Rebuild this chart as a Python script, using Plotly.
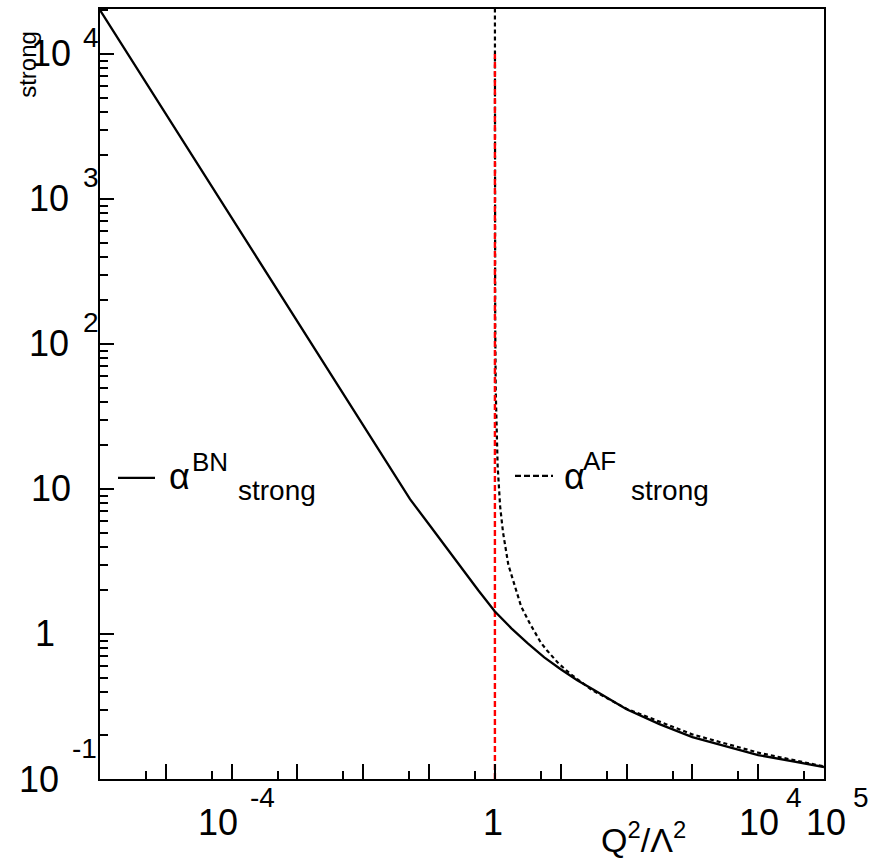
import numpy as np
import plotly.graph_objects as go

# Coupling in the "BN" scheme, alpha_strong versus Q^2/Lambda^2
q2_bn = [1e-6, 1e-5, 1e-4, 1e-3, 1e-2, 0.0316, 0.0513, 0.1, 0.316, 0.562,
         1.0, 1.78, 3.16, 5.62, 10.0, 17.8, 31.6, 100.0, 316.0, 1000.0, 1e4, 1e5]
alpha_bn = [20090, 3846, 738, 141.9, 27.35, 12.02, 8.51, 5.69, 2.82, 1.995,
            1.43, 1.093, 0.862, 0.690, 0.571, 0.480, 0.412, 0.303, 0.239, 0.1945, 0.1463, 0.121]

# One-loop asymptotically free coupling (diverges at Q^2 = Lambda^2)
q2_af = [1.00006, 1.0003, 1.001, 1.003, 1.01, 1.03, 1.06, 1.1, 1.2, 1.33, 1.6, 1.9,
         2.5, 3.4, 5.0, 6.2, 9.0, 14.0, 30.0, 100.0, 1000.0, 1e4, 1e5]
alpha_af = [23000, 4600, 1400, 470, 140, 47, 24, 14.5, 7.6, 5.0, 3.0, 2.3,
            1.55, 1.18, 0.87, 0.77, 0.635, 0.53, 0.41, 0.305, 0.203, 0.152, 0.122]

# Landau pole marker at Q^2 = Lambda^2
pole_x = [1.0, 1.0]
pole_y = [0.1, 1e4]

# Axis ranges (log10) and tick positions
x_range = [-6, 5]
y_range = [-1, 4.31]
x_major = [1e-6, 1e-5, 1e-4, 1e-3, 1e-2, 1e-1, 1, 10, 100, 1e3, 1e4, 1e5]
x_minor = [5e-6, 5e-5, 5e-4, 5e-3, 5e-2, 0.5, 5, 50, 500, 5e3, 5e4]
y_major = [0.1, 1, 10, 100, 1e3, 1e4]
y_minor = [m * 10.0 ** e for e in range(-1, 5) for m in range(2, 10)]

# Tick labels: (value, mantissa text, exponent text)
x_labels = [(1e-4, "10", "-4"), (1, "1", ""), (1e4, "10", "4"), (1e5, "10", "5")]
y_labels = [(1e4, "10", "4"), (1e3, "10", "3"), (100, "10", "2"),
            (10, "10", ""), (1, "1", ""), (0.1, "10", "-1")]

FONT = "Liberation Sans, Arial, Helvetica, sans-serif"

fig = go.Figure()

fig.add_trace(go.Scatter(
    x=q2_af, y=alpha_af, mode="lines",
    line=dict(color="black", width=2.2, dash="4px,3px"),
    showlegend=False, hoverinfo="skip"))

fig.add_trace(go.Scatter(
    x=pole_x, y=pole_y, mode="lines",
    line=dict(color="#ff0000", width=2.4, dash="6px,3px"),
    showlegend=False, hoverinfo="skip"))

fig.add_trace(go.Scatter(
    x=q2_bn, y=alpha_bn, mode="lines",
    line=dict(color="black", width=2.3),
    showlegend=False, hoverinfo="skip"))

axis_common = dict(
    type="log", showgrid=False, zeroline=False, showticklabels=False,
    showline=True, linecolor="black", linewidth=2, mirror=True,
    ticks="inside", tickcolor="black", tickwidth=1.5,
)

fig.update_xaxes(
    **axis_common, range=x_range, tickmode="array", tickvals=x_major, ticklen=15,
    minor=dict(tickmode="array", tickvals=x_minor, ticks="inside", ticklen=8,
               tickcolor="black", tickwidth=1.5))
fig.update_yaxes(
    **axis_common, range=y_range, tickmode="array", tickvals=y_major, ticklen=14,
    minor=dict(tickmode="array", tickvals=y_minor, ticks="inside", ticklen=8,
               tickcolor="black", tickwidth=1.5))

annotations = []


def txt(text, size, **kw):
    d = dict(text=text, showarrow=False, font=dict(family=FONT, size=size, color="black"),
             xanchor="center", yanchor="middle")
    d.update(kw)
    annotations.append(d)


def px(p):
    return (p - 100) / 724


def py(p):
    return (779 - p) / 772


# x-axis labels, ROOT-like "10" with a raised exponent
x_shift = {1e-4: (-14, 31), 1: (-2, 0), 1e4: (1, 36), 1e5: (2, 37)}
for v, mant, ex in x_labels:
    dm, de = x_shift[v]
    xpos = px(100 + 65.8 * (np.log10(v) - x_range[0]))
    txt(mant, 36, xref="paper", x=xpos, yref="paper", y=py(823), xshift=dm)
    if ex:
        txt(ex, 28, xref="paper", x=xpos, yref="paper", y=py(798), xshift=de)

# y-axis labels
y_shift = {1e4: (-49, 0, -9, 16), 1e3: (-51, 0, -9, 21), 100: (-51, 0, -9, 21),
           10: (-49, 0, 0, 0), 1: (-55, 0, 0, 0), 0.1: (-61, 0, -16, 31)}
for v, mant, ex in y_labels:
    mx, my, ex_x, ex_y = y_shift[v]
    txt(mant, 36, xref="paper", x=0, yref="y", y=np.log10(v), xshift=mx, yshift=my)
    if ex:
        txt(ex, 28, xref="paper", x=0, yref="y", y=np.log10(v), xshift=ex_x, yshift=ex_y)

# axis title
txt("Q<sup>2</sup>/Λ<sup>2</sup>", 34, xref="paper", x=px(643),
    yref="paper", y=py(838))

# vertical title, mostly outside the frame
txt("strong", 24, xref="paper", x=px(28), yref="paper", y=py(63), textangle=-90)

# in-plot legend text
txt("α", 36, xref="paper", x=px(179), yref="paper", y=py(476))
txt("BN", 26, xref="paper", x=px(210), yref="paper", y=py(461))
txt("strong", 28, xref="paper", x=px(277), yref="paper", y=py(490))
txt("α", 36, xref="paper", x=px(574), yref="paper", y=py(476))
txt("AF", 26, xref="paper", x=px(599), yref="paper", y=py(460))
txt("strong", 28, xref="paper", x=px(670), yref="paper", y=py(490))

shapes = [
    dict(type="line", xref="paper", yref="paper", x0=px(118), x1=px(155),
         y0=py(477), y1=py(477), line=dict(color="black", width=2.3)),
    dict(type="line", xref="paper", yref="paper", x0=px(515), x1=px(553),
         y0=py(475), y1=py(475), line=dict(color="black", width=2.3, dash="6px,3px")),
]

fig.update_layout(
    width=882, height=859,
    margin=dict(l=100, r=58, t=7, b=80),
    paper_bgcolor="white", plot_bgcolor="white",
    annotations=annotations, shapes=shapes,
    showlegend=False,
)

fig.write_html("out.html")
